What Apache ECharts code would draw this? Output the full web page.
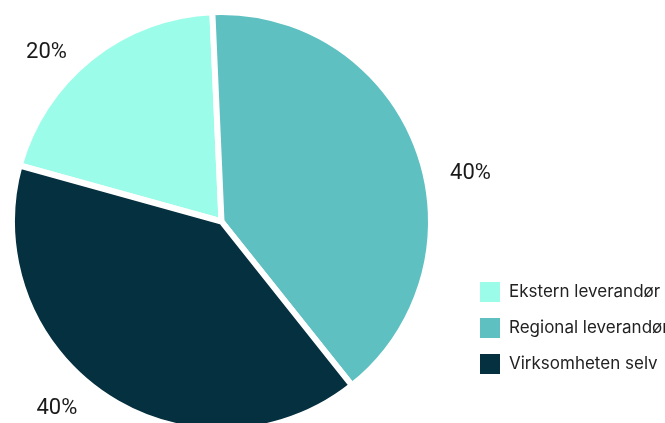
<!DOCTYPE html>
<html>
<head>
<meta charset="utf-8">
<script src="https://cdn.jsdelivr.net/npm/echarts@6/dist/echarts.min.js"></script>
<style>
  html, body { margin: 0; padding: 0; background: #ffffff; }
  #chart { width: 665px; height: 423px; }
</style>
</head>
<body>
<div id="chart"></div>
<script>
// Who delivers the service: share of respondents
const categories = ['Ekstern leverandør', 'Regional leverandør', 'Virksomheten selv'];
const shares = [20, 40, 40];
const colors = ['#9bfde9', '#5ec0c1', '#05303f'];

const chart = echarts.init(document.getElementById('chart'), null, { renderer: 'canvas' });

chart.setOption({
  animation: false,
  color: colors,
  legend: {
    orient: 'vertical',
    left: 473,
    top: 275,
    itemWidth: 22,
    itemHeight: 22,
    itemGap: 12,
    icon: 'rect',
    data: categories,
    textStyle: {
      fontFamily: 'Inter',
      fontSize: 17,
      color: '#222222',
      padding: [0, 0, 0, 3],
      width: 300,
      overflow: 'none'
    }
  },
  series: [{
    type: 'pie',
    center: [221.5, 221.5],
    radius: 209.5,
    startAngle: 164.5,
    clockwise: true,
    avoidLabelOverlap: false,
    itemStyle: { borderColor: '#ffffff', borderWidth: 6 },
    label: {
      show: true,
      position: 'outside',
      formatter: '{c}%',
      fontFamily: 'Roboto',
      fontSize: 22,
      color: '#1a1a1a'
    },
    labelLine: { show: false, length: 10, length2: 0 },
    labelLayout: function (p) {
      // nudge the percentage labels around the rim
      const nudges = [[-13, 3], [18, 29], [-18, 4]];
      const n = nudges[p.dataIndex];
      return { dx: n[0], dy: n[1] };
    },
    data: categories.map((name, i) => ({ name: name, value: shares[i] }))
  }]
});
</script>
</body>
</html>
